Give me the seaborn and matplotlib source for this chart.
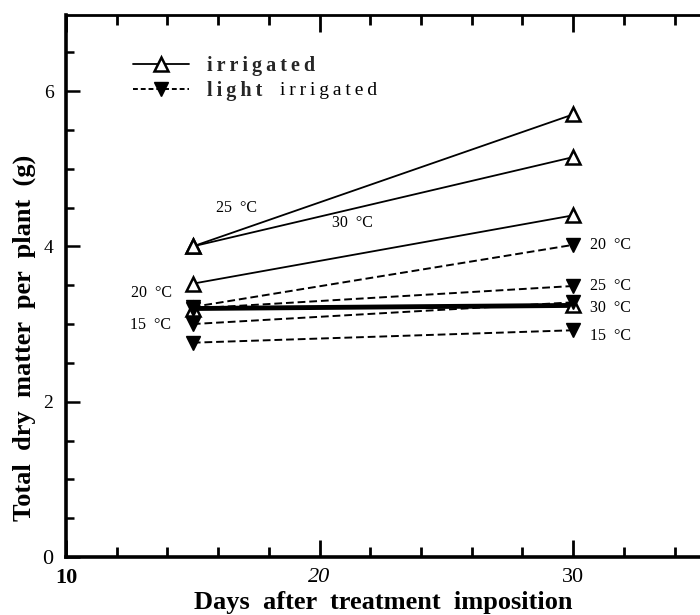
import matplotlib
matplotlib.use("Agg")
import matplotlib.pyplot as plt
from matplotlib.lines import Line2D
from matplotlib.ticker import FixedLocator, MultipleLocator
import pandas as pd
import seaborn as sns

# Sampling days after treatment imposition
days = [15, 30]

# Total dry matter per plant (g), irrigated plants
irr_25 = [4.00, 5.70]
irr_30 = [4.00, 5.15]
irr_20 = [3.52, 4.40]
irr_15 = [3.20, 3.24]

# Total dry matter per plant (g), lightly irrigated plants
light_20 = [3.22, 4.02]
light_25 = [3.20, 3.49]
light_30 = [3.00, 3.28]
light_15 = [2.76, 2.92]

x_tick_labels = ["10", "20", "30"]
y_tick_labels = ["0", "2", "4", "6"]


def frame(series, water):
    rows = []
    for temp, vals in series.items():
        for d, v in zip(days, vals):
            rows.append({"day": d, "dm": v, "temp": temp, "water": water})
    return pd.DataFrame(rows)


irr_df = frame({"25": irr_25, "30": irr_30, "20": irr_20}, "irrigated")
irr15_df = frame({"15": irr_15}, "irrigated")
light_df = frame({"20": light_20, "25": light_25, "30": light_30, "15": light_15}, "light")

sns.set_theme(style="ticks")
plt.rcParams["font.family"] = ["Liberation Serif", "DejaVu Serif"]

fig = plt.figure(figsize=(7.0, 6.15), dpi=100)
ax = fig.add_axes([66 / 700, 58 / 615, 634 / 700, 542 / 615])

open_kw = dict(marker="^", markersize=10, markerfacecolor="white",
               markeredgecolor="black", markeredgewidth=1.8, color="black")
fill_kw = dict(marker="v", markersize=10, markerfacecolor="black",
               markeredgecolor="black", markeredgewidth=1.0, color="black")

sns.lineplot(data=irr15_df, x="day", y="dm", units="temp", estimator=None,
             linewidth=3.5, ax=ax, legend=False, zorder=3, **open_kw)
sns.lineplot(data=irr_df, x="day", y="dm", units="temp", estimator=None,
             linewidth=1.3, ax=ax, legend=False, zorder=3, **open_kw)
sns.lineplot(data=light_df, x="day", y="dm", units="temp", estimator=None,
             linewidth=1.4, linestyle=(0, (4, 2)), ax=ax, legend=False,
             zorder=4, **fill_kw)

ax.set_xlim(10, 35)
ax.set_ylim(0, 6.98)

# Ticks point inward on bottom, top and left
ax.xaxis.set_major_locator(FixedLocator([10, 20, 30]))
ax.xaxis.set_minor_locator(MultipleLocator(2))
ax.yaxis.set_major_locator(FixedLocator([0, 2, 4, 6]))
ax.yaxis.set_minor_locator(MultipleLocator(0.5))
ax.set_xticklabels(x_tick_labels)
ax.set_yticklabels(y_tick_labels)
ax.tick_params(axis="x", which="both", direction="in", top=True, bottom=True,
               width=2.0, color="black", labelcolor="black")
ax.tick_params(axis="x", which="major", length=12, labelsize=16, pad=8)
ax.tick_params(axis="x", which="minor", length=7)
ax.tick_params(axis="y", which="both", direction="in", left=True, right=False,
               width=1.8, color="black", labelcolor="black")
ax.tick_params(axis="y", which="major", length=10, labelsize=14, pad=9)
ax.tick_params(axis="y", which="minor", length=6)

xl = ax.get_xticklabels()
xl[0].set_fontweight("bold")
xl[1].set_fontstyle("italic")
ax.get_yticklabels()[0].set_fontsize(16)

for side in ["left", "bottom"]:
    ax.spines[side].set_linewidth(2.6)
    ax.spines[side].set_color("black")
ax.spines["top"].set_linewidth(2.0)
ax.spines["top"].set_color("black")
ax.spines["right"].set_visible(False)
ax.set_facecolor("white")
ax.grid(False)

ax.set_xlabel("Days  after  treatment  imposition", fontsize=19,
              fontweight="bold", color="black")
ax.xaxis.set_label_coords(0.5, -0.062)
ax.set_ylabel("Total  dry  matter  per  plant  (g)", fontsize=19,
              fontweight="bold", color="black")
ax.yaxis.set_label_coords(-0.066, 0.404)
ax.yaxis.label.set_va("center")

# Temperature labels
lab_kw = dict(fontsize=11.5, color="black", textcoords="offset points")
ax.annotate("25  °C", xy=(days[0], irr_25[0]), xytext=(17, 28), ha="left",
            va="center", **lab_kw)
ax.annotate("30  °C", xy=(21.3, 4.30), xytext=(0, 0), ha="center",
            va="center", **lab_kw)
ax.annotate("20  °C", xy=(days[0], irr_20[0]), xytext=(-15, -7), ha="right",
            va="center", **lab_kw)
ax.annotate("15  °C", xy=(days[0], irr_15[0]), xytext=(-16, -12), ha="right",
            va="center", **lab_kw)
right_labels = [("20  °C", light_20, 0), ("25  °C", light_25, 0),
                ("30  °C", light_30, -4), ("15  °C", light_15, -4)]
for txt, vals, dy in right_labels:
    ax.annotate(txt, xy=(days[1], vals[1]), xytext=(12, dy), ha="left",
                va="center", **lab_kw)

# Legend
sp = "\u2009"
handles = [
    Line2D([], [], linewidth=1.3, **open_kw),
    Line2D([], [], linewidth=1.4, linestyle=(0, (2.5, 1.5)), **fill_kw),
]
leg = ax.legend(handles, [sp.join("irrigated"), sp.join("light")],
                loc="upper left", bbox_to_anchor=(0.093, 0.94), frameon=False,
                handlelength=2.8, handletextpad=0.85, labelspacing=0.25,
                borderaxespad=0,
                prop={"family": ["Liberation Serif", "DejaVu Serif"],
                      "weight": "bold", "size": 14.5})
ax.annotate(sp.join("irrigated"), xy=(1, 0), xycoords=leg.get_texts()[1],
            xytext=(13, 1), textcoords="offset points", ha="left", va="bottom",
            fontsize=14, color="black", zorder=10)

fig.savefig("out.png", dpi=100, facecolor="white")
